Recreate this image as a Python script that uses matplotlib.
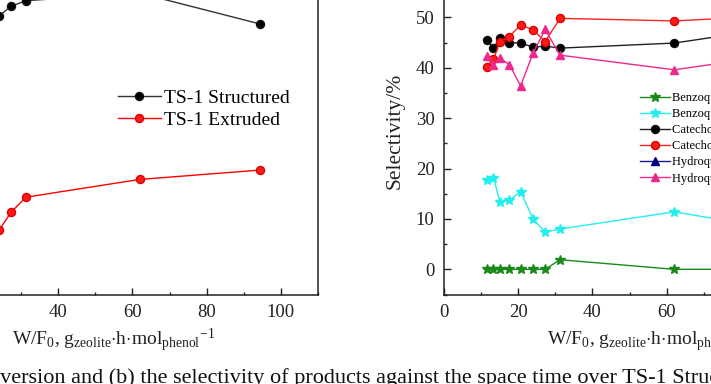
import numpy as np
import matplotlib
matplotlib.use("Agg")
import matplotlib.pyplot as plt
from matplotlib.ticker import MultipleLocator

plt.rcParams["font.family"] = ["Liberation Serif", "DejaVu Serif"]
plt.rcParams["mathtext.fontset"] = "custom"
plt.rcParams["mathtext.rm"] = "Liberation Serif"
plt.rcParams["mathtext.it"] = "Liberation Serif:italic"

# space time W/F0 (g_zeolite h / mol_phenol)
wf = [11.7, 13.4, 15.2, 17.7, 20.7, 24.1, 27.3, 31.3, 62.0, 94.5]

# (a) phenol conversion, %
conv_structured = [22.0, 24.0, 25.8, 27.3, 28.7, 29.8, 30.8, 31.4, 32.2, 28.9]
conv_extruded = [3.0, 3.6, 4.3, 5.0, 5.9, 6.9, 8.8, 10.4, 12.3, 13.3]

# (b) selectivity, %
bq_structured = [0.0, 0.0, 0.0, 0.0, 0.0, 0.0, 0.0, 1.9, 0.0, 0.0]
bq_extruded = [17.7, 18.2, 13.3, 13.7, 15.4, 9.9, 7.4, 8.0, 11.4, 7.4]
cat_structured = [45.5, 43.9, 45.9, 45.0, 44.9, 44.1, 44.3, 43.9, 44.9, 48.5]
cat_extruded = [40.2, 41.7, 45.2, 46.2, 48.5, 47.5, 45.2, 49.8, 49.3, 50.5]
hq_structured = [55.5, 56.1, 55.1, 55.0, 55.1, 55.9, 55.7, 55.8, 55.1, 51.5]
hq_extruded = [42.3, 40.6, 41.9, 40.6, 36.4, 43.0, 47.6, 42.5, 39.6, 43.0]

W, H = 711, 384
fig = plt.figure(figsize=(W / 100, H / 100), dpi=100)


def px_axes(x0, x1, ytop, ybot):
    return fig.add_axes([x0 / W, 1 - ybot / H, (x1 - x0) / W, (ybot - ytop) / H])


def style_axes(ax):
    for s in ax.spines.values():
        s.set_linewidth(1.1)
        s.set_color("#222222")
    ax.tick_params(which="both", direction="in", top=False, right=False,
                   colors="#222222", labelsize=13.5, labelcolor="#222222")
    ax.tick_params(which="major", length=5, width=1.0, pad=7)
    ax.tick_params(which="minor", length=2.5, width=1.0)
    ax.xaxis.set_major_locator(MultipleLocator(20))
    ax.xaxis.set_minor_locator(MultipleLocator(10))
    ax.set_xlim(0, 110)
    ax.set_xlabel(r"W/F$_0$, g$_{\rm zeolite}$$\cdot$h$\cdot$mol$_{\rm phenol}$$^{-1}$",
                  fontsize=14, labelpad=4, color="#222222")


# ---- (a) conversion ----
ax1 = px_axes(-90.2, 318, -33, 294.5)
style_axes(ax1)
ax1.set_ylim(0, 35)
ax1.yaxis.set_major_locator(MultipleLocator(5))
ax1.plot(wf, conv_structured, "-o", color="#333333", mfc="black", mec="#111111",
         ms=5.8, lw=1.0, label="TS-1 Structured")
ax1.plot(wf, conv_extruded, "-o", color="#ff0000", mfc="#ff1a1a", mec="#dd0000",
         ms=5.8, lw=1.0, label="TS-1 Extruded")
ax1.legend(loc="upper left", bbox_to_anchor=(118 / W, 1 - 89 / H),
           bbox_transform=fig.transFigure, frameon=False, fontsize=14,
           handlelength=2.2, handletextpad=0.15, labelspacing=0.25,
           borderaxespad=0, borderpad=0)

# ---- (b) selectivity ----
ax2 = px_axes(443.6, 443.6 + 409.2, -33, 294.5)
style_axes(ax2)
ax2.set_ylim(-5, 60)
ax2.yaxis.set_major_locator(MultipleLocator(10))
ax2.yaxis.set_minor_locator(MultipleLocator(5))
ax2.tick_params(axis="y", which="major", pad=6.5)
ax2.set_ylabel("Selectivity/%", fontsize=15.5, color="#222222")
ax2.yaxis.set_label_coords(-0.096, 0.5)

ax2.plot(wf, bq_structured, "-*", color="#1a8a1a", ms=7.5, lw=1.0,
         label="Benzoquinone Structured")
ax2.plot(wf, bq_extruded, "-*", color="#22eeee", ms=7.5, lw=1.0,
         label="Benzoquinone Extruded")
ax2.plot(wf, cat_structured, "-o", color="#222222", mfc="black", mec="#111111",
         ms=5.8, lw=1.0, label="Catechol Structured")
ax2.plot(wf, cat_extruded, "-o", color="#ff2222", mfc="#ff1a1a", mec="#dd0000",
         ms=5.8, lw=1.0, label="Catechol Extruded")
ax2.plot(wf, hq_structured, "-^", color="#1a1a99", mfc="#000080", mec="#000080",
         ms=5.8, lw=1.0, label="Hydroquinone Structured")
ax2.plot(wf, hq_extruded, "-^", color="#f0288c", mfc="#f0288c", mec="#f0288c",
         ms=5.8, lw=1.0, label="Hydroquinone Extruded")
ax2.legend(loc="upper left", bbox_to_anchor=(640 / W, 1 - 92 / H),
           bbox_transform=fig.transFigure, frameon=False, fontsize=9,
           handlelength=2.4, handletextpad=0.2, labelspacing=0.33,
           borderaxespad=0, borderpad=0)

# caption line (cut off at the image edges)
fig.text(-32 / W, 1 - 383 / H,
         "conversion and (b) the selectivity of products against the space time "
         "over TS-1 Structured and TS-1 Extruded.",
         fontsize=16, va="baseline", ha="left", color="#111111")

fig.savefig("out.png", dpi=100)
